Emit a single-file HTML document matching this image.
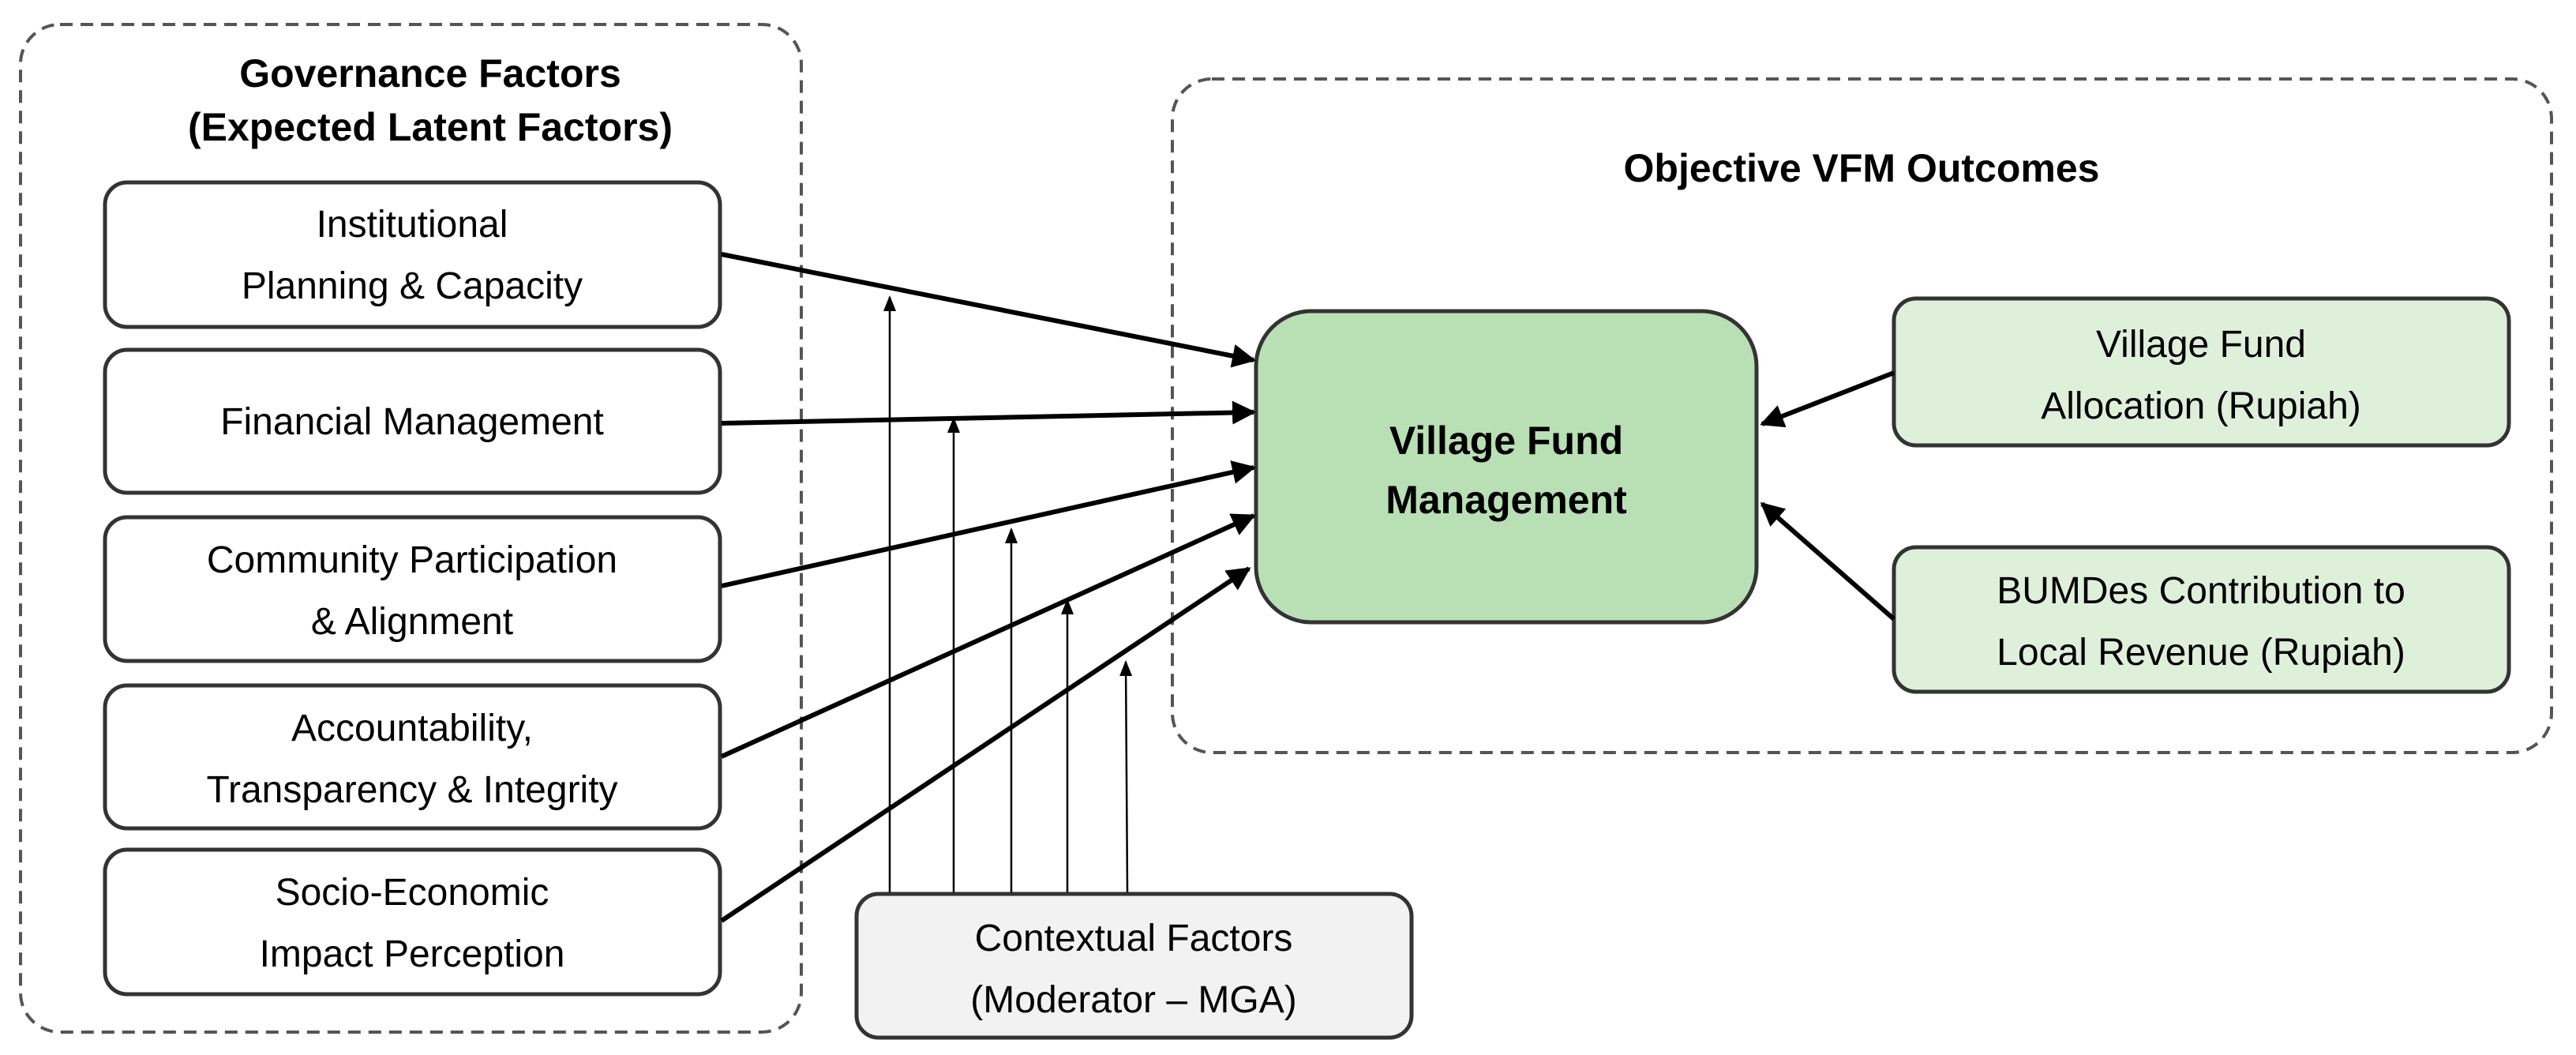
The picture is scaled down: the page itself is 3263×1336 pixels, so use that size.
<!DOCTYPE html>
<html><head><meta charset="utf-8"><style>
html,body{margin:0;padding:0;background:#fff;}
svg{display:block;}
text{font-family:"Liberation Sans",sans-serif;fill:#000;}
</style></head><body>
<svg width="3263" height="1336" viewBox="0 0 3263 1336" xmlns="http://www.w3.org/2000/svg">
<defs>
<marker id="ah" viewBox="0 0 10 10" refX="9" refY="5" markerWidth="5" markerHeight="5" orient="auto" markerUnits="strokeWidth"><path d="M0,0 L10,5 L0,10 z" fill="#000"/></marker>
<marker id="ahs" viewBox="0 0 10 10" refX="9" refY="5" markerWidth="8" markerHeight="8" orient="auto" markerUnits="strokeWidth"><path d="M0,1 L10,5 L0,9 z" fill="#000"/></marker>
</defs>
<!-- dashed containers -->
<rect x="26" y="31" width="989" height="1276" rx="50" fill="none" stroke="#555" stroke-width="4" stroke-dasharray="16,10"/>
<rect x="1485" y="100" width="1747" height="853" rx="50" fill="none" stroke="#555" stroke-width="4" stroke-dasharray="16,10"/>
<text x="545" y="110" font-size="50" font-weight="bold" text-anchor="middle">Governance Factors</text>
<text x="545" y="178" font-size="50" font-weight="bold" text-anchor="middle">(Expected Latent Factors)</text>
<text x="2358" y="230" font-size="50" font-weight="bold" text-anchor="middle">Objective VFM Outcomes</text>
<!-- left boxes -->
<g fill="#fff" stroke="#333" stroke-width="5">
<rect x="133" y="231" width="779" height="183" rx="28"/>
<rect x="133" y="443" width="779" height="181" rx="28"/>
<rect x="133" y="655" width="779" height="182" rx="28"/>
<rect x="133" y="868" width="779" height="181" rx="28"/>
<rect x="133" y="1076" width="779" height="183" rx="28"/>
</g>
<g font-size="48" text-anchor="middle">
<text x="522" y="300">Institutional</text>
<text x="522" y="378">Planning &amp; Capacity</text>
<text x="522" y="550">Financial Management</text>
<text x="522" y="725">Community Participation</text>
<text x="522" y="803">&amp; Alignment</text>
<text x="522" y="938">Accountability,</text>
<text x="522" y="1016">Transparency &amp; Integrity</text>
<text x="522" y="1146">Socio-Economic</text>
<text x="522" y="1224">Impact Perception</text>
</g>
<!-- main box -->
<rect x="1591" y="394" width="634" height="394" rx="70" fill="#b9e0b5" stroke="#333" stroke-width="5"/>
<text x="1908" y="575" font-size="50" font-weight="bold" text-anchor="middle">Village Fund</text>
<text x="1908" y="650" font-size="50" font-weight="bold" text-anchor="middle">Management</text>
<!-- right boxes -->
<rect x="2399" y="378" width="779" height="186" rx="28" fill="#dff0da" stroke="#333" stroke-width="5"/>
<rect x="2399" y="693" width="779" height="183" rx="28" fill="#dff0da" stroke="#333" stroke-width="5"/>
<g font-size="48" text-anchor="middle">
<text x="2788" y="452">Village Fund</text>
<text x="2788" y="530">Allocation (Rupiah)</text>
<text x="2788" y="764">BUMDes Contribution to</text>
<text x="2788" y="842">Local Revenue (Rupiah)</text>
</g>
<!-- contextual box -->
<rect x="1085" y="1132" width="703" height="182" rx="28" fill="#f2f2f2" stroke="#333" stroke-width="5"/>
<text x="1436" y="1204" font-size="48" text-anchor="middle">Contextual Factors</text>
<text x="1436" y="1282" font-size="48" text-anchor="middle">(Moderator – MGA)</text>
<!-- thick arrows -->
<g stroke="#000" stroke-width="6" fill="none" marker-end="url(#ah)">
<line x1="914" y1="322" x2="1588" y2="456"/>
<line x1="914" y1="536" x2="1588" y2="522"/>
<line x1="914" y1="742" x2="1588" y2="592"/>
<line x1="914" y1="958" x2="1588" y2="653"/>
<line x1="914" y1="1166" x2="1582" y2="720"/>
<line x1="2399" y1="472" x2="2232" y2="537"/>
<line x1="2399" y1="784" x2="2232" y2="638"/>
</g>
<!-- moderator arrows -->
<g stroke="#000" stroke-width="2.5" fill="none" marker-end="url(#ahs)">
<line x1="1127" y1="1130" x2="1127" y2="376"/>
<line x1="1208" y1="1130" x2="1208" y2="530"/>
<line x1="1281" y1="1130" x2="1281" y2="670"/>
<line x1="1352" y1="1130" x2="1352" y2="760"/>
<line x1="1428" y1="1130" x2="1426" y2="838"/>
</g>
</svg>
</body></html>
